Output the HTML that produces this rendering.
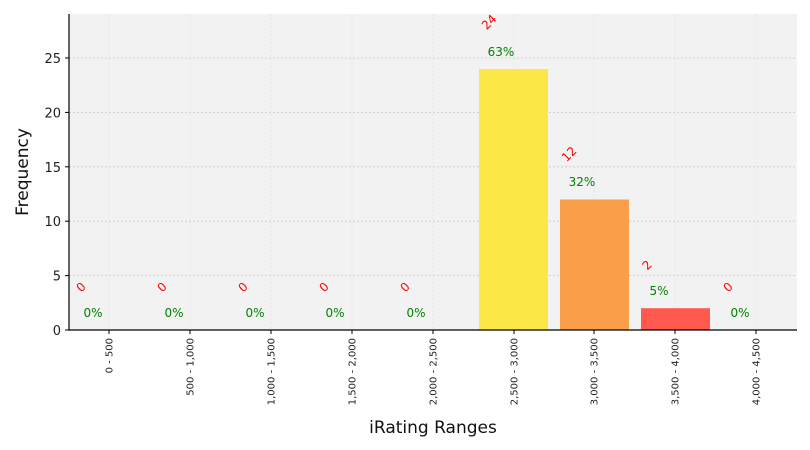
<!DOCTYPE html>
<html><head><meta charset="utf-8"><style>body{margin:0;background:#fff}svg{display:block;font-family:"DejaVu Sans","Liberation Sans",sans-serif}</style></head><body>
<svg width="810" height="450" viewBox="0 0 810 450">
<rect x="69" y="14" width="728" height="316" fill="#f2f2f2"/>
<g stroke="#c8c8c8" stroke-width="0.8" stroke-dasharray="2,2">
<line x1="69" x2="797" y1="275.6" y2="275.6"/><line x1="69" x2="797" y1="221.2" y2="221.2"/><line x1="69" x2="797" y1="166.8" y2="166.8"/><line x1="69" x2="797" y1="112.4" y2="112.4"/><line x1="69" x2="797" y1="58" y2="58"/>
</g>
<g stroke="#e2e2e2" stroke-width="0.8" stroke-dasharray="2,2">
<line x1="109" x2="109" y1="14" y2="330"/><line x1="190" x2="190" y1="14" y2="330"/><line x1="271" x2="271" y1="14" y2="330"/><line x1="352" x2="352" y1="14" y2="330"/><line x1="433" x2="433" y1="14" y2="330"/><line x1="514" x2="514" y1="14" y2="330"/><line x1="594" x2="594" y1="14" y2="330"/><line x1="675" x2="675" y1="14" y2="330"/><line x1="756" x2="756" y1="14" y2="330"/>
</g>
<rect x="479" y="69" width="69" height="261" fill="#fbe847"/>
<rect x="560" y="199.5" width="69" height="130.5" fill="#f99f4a"/>
<rect x="641" y="308.2" width="69" height="21.8" fill="#fe594c"/>
<g stroke="#000" stroke-width="1.2"><line x1="69" y1="14" x2="69" y2="330.5"/><line x1="68.5" y1="330" x2="797" y2="330"/></g>
<g stroke="#000" stroke-width="1">
<line x1="65" x2="69" y1="330" y2="330"/><line x1="65" x2="69" y1="275.6" y2="275.6"/><line x1="65" x2="69" y1="221.2" y2="221.2"/><line x1="65" x2="69" y1="166.8" y2="166.8"/><line x1="65" x2="69" y1="112.4" y2="112.4"/><line x1="65" x2="69" y1="58" y2="58"/>
<line x1="109" x2="109" y1="330" y2="334"/><line x1="190" x2="190" y1="330" y2="334"/><line x1="271" x2="271" y1="330" y2="334"/><line x1="352" x2="352" y1="330" y2="334"/><line x1="433" x2="433" y1="330" y2="334"/><line x1="514" x2="514" y1="330" y2="334"/><line x1="594" x2="594" y1="330" y2="334"/><line x1="675" x2="675" y1="330" y2="334"/><line x1="756" x2="756" y1="330" y2="334"/>
</g>
<g font-size="13" text-anchor="end" fill="#222">
<text x="61" y="335">0</text><text x="61" y="280.6">5</text><text x="61" y="226.2">10</text><text x="61" y="171.8">15</text><text x="61" y="117.4">20</text><text x="61" y="63">25</text>
</g>
<g font-size="10" text-anchor="end" fill="#222">
<text transform="translate(112.5,338) rotate(-90)">0 - 500</text>
<text transform="translate(193.5,338) rotate(-90)">500 - 1,000</text>
<text transform="translate(274.5,338) rotate(-90)">1,000 - 1,500</text>
<text transform="translate(355.5,338) rotate(-90)">1,500 - 2,000</text>
<text transform="translate(436.5,338) rotate(-90)">2,000 - 2,500</text>
<text transform="translate(517.5,338) rotate(-90)">2,500 - 3,000</text>
<text transform="translate(597.5,338) rotate(-90)">3,000 - 3,500</text>
<text transform="translate(678.5,338) rotate(-90)">3,500 - 4,000</text>
<text transform="translate(759.5,338) rotate(-90)">4,000 - 4,500</text>
</g>
<g font-size="12" fill="#ff0000" text-anchor="middle">
<text transform="translate(84,290) rotate(-45)">0</text>
<text transform="translate(165,290) rotate(-45)">0</text>
<text transform="translate(246,290) rotate(-45)">0</text>
<text transform="translate(327,290) rotate(-45)">0</text>
<text transform="translate(408,290) rotate(-45)">0</text>
<text transform="translate(492,25) rotate(-45)">24</text>
<text transform="translate(572,157) rotate(-45)">12</text>
<text transform="translate(650,268) rotate(-45)">2</text>
<text transform="translate(731,290) rotate(-45)">0</text>
</g>
<g font-size="12" fill="#008000" text-anchor="middle">
<text x="93" y="317">0%</text><text x="174" y="317">0%</text><text x="255" y="317">0%</text><text x="335" y="317">0%</text><text x="416" y="317">0%</text>
<text x="501" y="56">63%</text><text x="582" y="186">32%</text><text x="659" y="295">5%</text><text x="740" y="317">0%</text>
</g>
<text x="433" y="433" font-size="17" text-anchor="middle" fill="#111">iRating Ranges</text>
<text transform="translate(28,172) rotate(-90)" font-size="17" text-anchor="middle" fill="#111">Frequency</text>
</svg>
</body></html>
